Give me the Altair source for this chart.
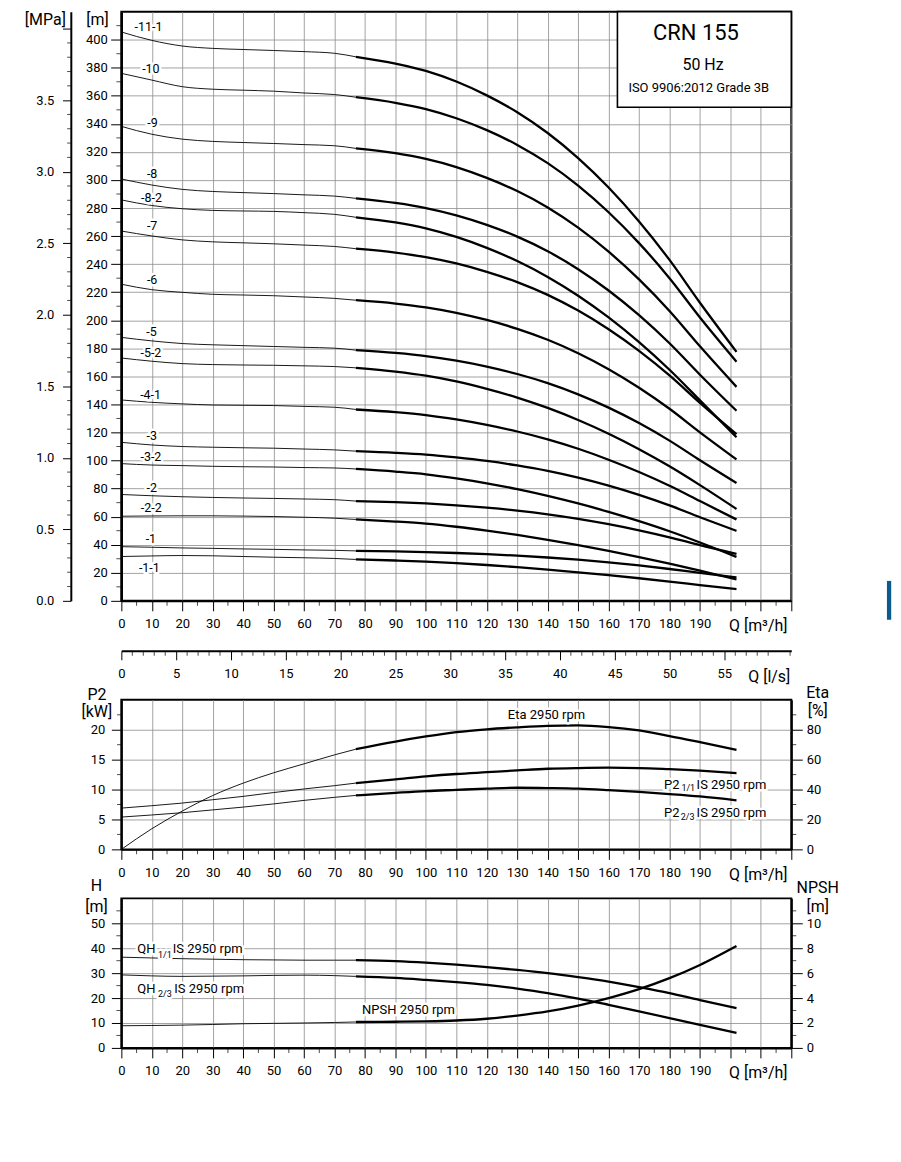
import altair as alt
import pandas as pd

FONT = "Roboto"
W, H_TOP, H_MID, H_BOT = 672, 591, 150, 150
H_STRIP = 1
SPACING = 49.15
Q_MAX = 220
LS_MAX = Q_MAX / 3.6
M_TOP = 420
MPA_FULL = M_TOP * 0.00980665
MPA_OFFSET = 50.7
SPLIT_Q = 77

# ---------------- data ----------------
Q_PTS = [0, 10, 20, 30, 40, 50, 60, 70, 77, 90, 100, 110, 120, 130, 140, 150, 160, 170, 180, 190, 202]

H_11_1 = [405.5, 399.5, 395.5, 393.8, 393.0, 392.3, 391.5, 390.3, 387.8, 383.0, 377.8, 370.2, 360.3, 348.3, 333.5, 315.6, 294.6, 270.4, 243.0, 212.5, 177.5]
H_10 = [376.0, 371.2, 366.5, 364.7, 364.0, 363.3, 362.0, 360.9, 359.0, 355.0, 350.5, 344.0, 335.5, 325.0, 312.0, 296.0, 277.0, 255.0, 230.0, 202.0, 170.5]
H_9 = [338.2, 332.6, 329.1, 327.5, 326.7, 326.0, 325.2, 324.4, 322.5, 319.1, 315.0, 309.2, 301.5, 292.1, 280.4, 266.0, 248.9, 229.1, 206.6, 181.4, 152.5]
H_8 = [300.7, 296.4, 293.3, 291.8, 291.0, 290.3, 289.4, 288.5, 286.9, 283.6, 280.0, 274.8, 268.0, 259.6, 249.2, 236.4, 221.2, 203.6, 183.6, 161.2, 135.5]
H_8_2 = [285.8, 281.8, 279.5, 278.3, 277.9, 277.6, 276.7, 275.5, 273.4, 269.7, 265.5, 259.4, 251.6, 242.2, 230.9, 217.5, 202.0, 184.4, 164.7, 142.9, 116.6]
H_7 = [263.6, 260.1, 257.3, 255.9, 255.2, 254.5, 253.6, 252.6, 251.0, 248.2, 245.0, 240.5, 234.5, 227.2, 218.1, 206.9, 193.6, 178.2, 160.7, 141.1, 118.8]
H_6 = [225.7, 221.8, 219.9, 218.5, 218.0, 217.5, 216.6, 215.6, 214.3, 211.9, 209.2, 205.3, 200.2, 193.9, 186.1, 176.5, 165.1, 151.9, 136.9, 120.1, 100.8]
H_5 = [187.8, 185.3, 183.4, 182.5, 181.9, 181.3, 180.7, 180.1, 178.7, 176.7, 174.5, 171.2, 167.0, 161.7, 155.2, 147.2, 137.7, 126.7, 114.2, 100.2, 84.0]
H_5_2 = [173.1, 170.8, 169.1, 168.4, 168.1, 167.9, 167.5, 167.0, 166.1, 163.4, 160.5, 156.4, 151.1, 144.9, 137.5, 128.9, 119.1, 108.1, 95.9, 82.5, 65.5]
H_4_1 = [143.2, 141.5, 140.4, 139.6, 139.4, 139.2, 138.6, 138.0, 136.4, 134.5, 132.4, 129.3, 125.4, 120.7, 115.1, 108.4, 100.6, 91.8, 82.0, 71.1, 58.0]
H_3 = [113.0, 111.1, 110.0, 109.5, 109.1, 108.8, 108.2, 107.6, 106.7, 105.5, 104.2, 102.2, 99.7, 96.5, 92.6, 87.8, 82.1, 75.5, 68.0, 59.6, 49.9]
H_3_2 = [97.8, 96.8, 96.4, 95.9, 95.6, 95.4, 95.0, 94.7, 94.0, 92.1, 90.2, 87.3, 83.8, 79.6, 74.8, 69.4, 63.4, 56.8, 49.6, 41.6, 31.3]
H_2 = [75.8, 74.9, 74.2, 73.7, 73.3, 73.0, 72.6, 72.1, 71.1, 70.3, 69.4, 68.1, 66.4, 64.3, 61.7, 58.5, 54.7, 50.3, 45.3, 39.7, 33.5]
H_2_2 = [60.3, 60.5, 60.6, 60.6, 60.4, 60.1, 59.6, 58.9, 58.0, 56.5, 55.0, 52.8, 50.1, 47.0, 43.5, 39.7, 35.6, 31.2, 26.5, 21.5, 15.2]
H_1 = [38.6, 38.2, 37.7, 37.4, 37.0, 36.7, 36.3, 36.0, 35.6, 35.2, 34.75, 34.1, 33.25, 32.2, 30.9, 29.3, 27.4, 25.2, 22.7, 19.9, 16.7]
H_1_1 = [31.6, 32.0, 32.3, 32.1, 31.6, 31.1, 30.7, 30.2, 29.5, 28.75, 28.0, 26.9, 25.55, 24.0, 22.25, 20.35, 18.3, 16.1, 13.75, 11.25, 8.3]

CURVE_NAMES = ["-11-1", "-10", "-9", "-8", "-8-2", "-7", "-6", "-5", "-5-2", "-4-1",
               "-3", "-3-2", "-2", "-2-2", "-1", "-1-1"]
CURVE_VALUES = [H_11_1, H_10, H_9, H_8, H_8_2, H_7, H_6, H_5, H_5_2, H_4_1,
                H_3, H_3_2, H_2, H_2_2, H_1, H_1_1]
LABEL_Q = [8.9, 9.7, 10.2, 10.1, 9.9, 10.1, 10.1, 9.9, 9.7, 9.6, 10.0, 9.7, 10.0, 9.8, 9.7, 9.2]
LABEL_H = [409.3, 378.9, 340.6, 303.9, 286.8, 266.9, 228.8, 191.5, 176.8, 147.0,
           117.4, 102.7, 80.5, 66.0, 44.2, 23.4]

BOX_Q = [162.9, 220.0]
BOX_H = [351.8, 420.0]
BOX_TEXT = ["CRN 155", "50 Hz", "ISO 9906:2012 Grade 3B"]
BOX_TEXT_Q = [188.7, 191.0, 189.6]
BOX_TEXT_H = [404.4, 382.3, 365.3]
BOX_TEXT_SIZE = [22, 16, 13]

TAB_Q = [251.4, 252.8]
TAB_H = [-13.5, 14.2]

ETA = [0.0, 13.8, 25.6, 36.0, 44.3, 51.2, 57.2, 63.2, 67.0, 72.1, 75.5, 78.4, 80.3, 81.6, 82.6, 82.9, 81.8, 79.5, 75.8, 71.7, 66.6]
P2_11 = [6.9, 7.3, 7.74, 8.3, 8.86, 9.5, 10.1, 10.65, 11.08, 11.7, 12.2, 12.6, 12.9, 13.2, 13.48, 13.6, 13.65, 13.6, 13.4, 13.15, 12.75]
P2_23 = [5.4, 5.75, 6.13, 6.6, 7.07, 7.6, 8.19, 8.7, 9.02, 9.45, 9.75, 9.95, 10.15, 10.3, 10.25, 10.15, 9.9, 9.6, 9.25, 8.85, 8.2]
QH_11 = [36.4, 36.1, 35.8, 35.6, 35.4, 35.3, 35.2, 35.2, 35.2, 34.8, 34.2, 33.4, 32.4, 31.3, 30.0, 28.4, 26.6, 24.4, 22.0, 19.2, 16.0]
QH_23 = [29.3, 28.9, 28.7, 28.8, 28.9, 29.1, 29.2, 29.0, 28.7, 28.1, 27.3, 26.4, 25.3, 23.8, 22.0, 19.8, 17.3, 14.7, 12.0, 9.2, 6.0]
NPSH = [1.78, 1.8, 1.83, 1.88, 1.94, 1.97, 2.0, 2.04, 2.08, 2.1, 2.13, 2.2, 2.34, 2.6, 2.93, 3.4, 4.0, 4.72, 5.6, 6.66, 8.18]

P2_LABEL_TEXT = ["P2", "IS 2950 rpm", "P2", "IS 2950 rpm"]
P2_LABEL_Q = [178.2, 188.9, 178.2, 188.9]
P2_LABEL_V = [10.05, 10.05, 5.43, 5.43]
P2_SUB_TEXT = ["1/1", "2/3"]
P2_SUB_Q = [183.9, 183.7]
P2_SUB_V = [9.77, 4.88]
ETA_LABEL = ["Eta 2950 rpm"]
ETA_LABEL_Q = [139.6]
ETA_LABEL_V = [87.3]

QH_LABEL_TEXT = ["QH", "IS 2950 rpm", "QH", "IS 2950 rpm"]
QH_LABEL_Q = [5.24, 16.9, 5.24, 17.4]
QH_LABEL_V = [38.0, 38.0, 22.2, 22.2]
QH_SUB_TEXT = ["1/1", "2/3"]
QH_SUB_Q = [12.0, 12.0]
QH_SUB_V = [36.1, 20.6]
NPSH_LABEL = ["NPSH 2950 rpm"]
NPSH_LABEL_Q = [94.3]
NPSH_LABEL_V = [13.7]

Q_MAJOR = list(range(0, Q_MAX + 1, 10))
Q_MINOR = list(range(5, Q_MAX, 10))
M_MAJOR = list(range(0, 401, 20))
M_MINOR = list(range(10, 411, 20))
MPA_MAJOR = [i * 0.5 for i in range(9)]
MPA_MINOR = [round(0.1 * i, 1) for i in range(1, 40) if i % 5 != 0]
LS_MAJOR = list(range(0, 56, 5))
LS_MINOR = [i for i in range(1, 62) if i % 5 != 0]
P2_MAJOR = [0, 5, 10, 15, 20]
P2_MINOR = [2.5, 7.5, 12.5, 17.5, 22.5]
ETA_MAJOR = [0, 20, 40, 60, 80]
ETA_MINOR = [10, 30, 50, 70, 90]
H_MAJOR = [0, 10, 20, 30, 40, 50]
H_MINOR = [5, 15, 25, 35, 45, 55]
NPSH_MAJOR = [0, 2, 4, 6, 8, 10]
NPSH_MINOR = [1, 3, 5, 7, 9, 11]


# ---------------- helpers ----------------
def curves_df(names, series):
    rows = []
    for n, s in zip(names, series):
        for q, v in zip(Q_PTS, s):
            if q <= SPLIT_Q:
                rows.append({"curve": n, "part": "thin", "Q": q, "V": v})
            if q >= SPLIT_Q:
                rows.append({"curve": n, "part": "thick", "Q": q, "V": v})
    return pd.DataFrame(rows)


def xs():
    return alt.Scale(domain=[0, Q_MAX], nice=False, zero=False)


def ysc(dom):
    return alt.Scale(domain=list(dom), nice=False, zero=False)


def X(field, axis=None):
    # layers without an axis of their own merge into the explicit one of the same scale
    if axis is None:
        return alt.X(field, scale=xs())
    return alt.X(field, scale=xs(), axis=axis)


def Y(field, dom, axis=None):
    if axis is None:
        return alt.Y(field, scale=ysc(dom))
    return alt.Y(field, scale=ysc(dom), axis=axis)


def x_major_axis():
    return alt.Axis(orient="bottom", values=Q_MAJOR, tickCount=200, format="d",
                    labelExpr="datum.value > 190 ? '' : datum.label", labelOverlap=False,
                    labelFlush=False, tickSize=10, labelPadding=7, domainWidth=2, grid=True,
                    title="Q [m³/h]", titleAngle=0, titleAlign="left",
                    titleBaseline="alphabetic", titleX=609, titleY=30)


def line_layers(df, ydom, xaxis=None, yaxis=None):
    thin = alt.Chart(df[df["part"] == "thin"]).mark_line(
        color="black", strokeWidth=0.9, interpolate="monotone").encode(
        x=X("Q:Q", xaxis), y=Y("V:Q", ydom, yaxis), detail="curve:N")
    thick = alt.Chart(df[df["part"] == "thick"]).mark_line(
        color="black", strokeWidth=2.3, interpolate="monotone").encode(
        x=X("Q:Q"), y=Y("V:Q", ydom), detail="curve:N")
    return [thin, thick]


def text_layers(df, ydom, size, align="left", baseline="alphabetic"):
    base = alt.Chart(df).encode(x=X("Q:Q"), y=Y("V:Q", ydom), text="t:N")
    halo = base.mark_text(font=FONT, fontSize=size, align=align, baseline=baseline,
                          color="white", stroke="white", strokeWidth=5, strokeJoin="round")
    txt = base.mark_text(font=FONT, fontSize=size, align=align, baseline=baseline, color="black")
    return [halo, txt]


def x_minor_ticks(ydom, length=5):
    df = pd.DataFrame({"Q": Q_MINOR, "V": [ydom[0]] * len(Q_MINOR)})
    return alt.Chart(df).mark_tick(color="black", orient="vertical", size=length, thickness=1,
                                   yOffset=length / 2).encode(x=X("Q:Q"), y=Y("V:Q", ydom))


def y_minor_ticks(values, ydom, length=5, at_q=0, shift=0.0):
    df = pd.DataFrame({"Q": [at_q] * len(values), "V": values})
    return alt.Chart(df).mark_tick(color="black", orient="horizontal", size=length, thickness=1,
                                   xOffset=shift).encode(x=X("Q:Q"), y=Y("V:Q", ydom))


def y_axis(orient, values, fmt, tick, pad, title, tx, ty, lh=16, grid=False, offset=0,
           label_expr=None, align="center", dwidth=2):
    kw = dict(orient=orient, values=values, tickCount=200, format=fmt, tickSize=tick,
              labelPadding=pad, domainWidth=dwidth, grid=grid, title=title, titleAngle=0,
              titleAlign=align, titleBaseline="alphabetic", titleX=tx, titleY=ty,
              titleLineHeight=lh, labelOverlap=False, labelFlush=False)
    if offset:
        kw["offset"] = offset
    if label_expr:
        kw["labelExpr"] = label_expr
    return alt.Axis(**kw)


# ---------------- top panel: heads ----------------
M_DOM = (0, M_TOP)
m_axis = y_axis("left", M_MAJOR, "d", 10.7, 3.3, "[m]", -24.5, 13, grid=True, dwidth=2.3)

df_head = curves_df(CURVE_NAMES, CURVE_VALUES)
head_lines = line_layers(df_head, M_DOM, x_major_axis(), m_axis)
head_labels = text_layers(pd.DataFrame({"t": CURVE_NAMES, "Q": LABEL_Q, "V": LABEL_H}),
                          M_DOM, 12.5, align="center", baseline="middle")

df_box = pd.DataFrame({"Q": [BOX_Q[0]], "q2": [BOX_Q[1]], "V": [BOX_H[0]], "h2": [BOX_H[1]]})
box = alt.Chart(df_box).mark_rect(fill="white", stroke="black", strokeWidth=1.6).encode(
    x=X("Q:Q"), x2="q2", y=Y("V:Q", M_DOM), y2="h2")
df_box_text = pd.DataFrame({"t": BOX_TEXT, "Q": BOX_TEXT_Q, "V": BOX_TEXT_H, "s": BOX_TEXT_SIZE})
box_text = alt.Chart(df_box_text).mark_text(font=FONT, color="black", align="center",
                                             baseline="middle").encode(
    x=X("Q:Q"), y=Y("V:Q", M_DOM), text="t:N", size=alt.Size("s:Q", scale=None, legend=None))
df_tab = pd.DataFrame({"Q": [TAB_Q[0]], "q2": [TAB_Q[1]], "V": [TAB_H[0]], "h2": [TAB_H[1]]})
tab = alt.Chart(df_tab).mark_rect(fill="#0b5b8f").encode(
    x=X("Q:Q"), x2="q2", y=Y("V:Q", M_DOM), y2="h2")

top_main = alt.layer(*head_lines, *head_labels, box, box_text, tab,
                     x_minor_ticks(M_DOM), y_minor_ticks(M_MINOR, M_DOM, 5, 0, -2.5))

MPA_DOM = (0, MPA_FULL)
df_mpa = pd.DataFrame({"Q": [0.0], "V": [0.0]})
mpa_axis_layer = alt.Chart(df_mpa).mark_point(opacity=0).encode(
    x=X("Q:Q"),
    y=Y("V:Q", MPA_DOM, y_axis("left", MPA_MAJOR, ".1f", 8.3, 8.7, "[MPa]", -46.6, 13,
                              offset=MPA_OFFSET, label_expr="datum.value > 3.9 ? '' : datum.label",
                              align="left")))
mpa_group = alt.layer(mpa_axis_layer, y_minor_ticks(MPA_MINOR, MPA_DOM, 3.7, 0, -MPA_OFFSET - 1.85))

top = alt.layer(top_main, mpa_group).resolve_scale(y="independent").properties(width=W, height=H_TOP)

# ---------------- l/s axis strip ----------------
LS_SCALE = alt.Scale(domain=[0, LS_MAX], nice=False, zero=False)
df_ls = pd.DataFrame({"L": [0.0], "V": [0.0]})
ls_axis_layer = alt.Chart(df_ls).mark_point(opacity=0).encode(
    x=alt.X("L:Q", scale=LS_SCALE, axis=alt.Axis(
        orient="bottom", values=LS_MAJOR, tickCount=200, format="d", tickSize=9,
        labelOverlap=False, labelFlush=False, labelPadding=7.3, domainWidth=2, grid=False,
        title="Q [l/s]", titleAngle=0, titleAlign="left", titleBaseline="alphabetic",
        titleX=628.3, titleY=30.7)),
    y=alt.Y("V:Q", scale=alt.Scale(domain=[0, 1]), axis=None))
df_ls_minor = pd.DataFrame({"L": LS_MINOR, "V": [0.0] * len(LS_MINOR)})
ls_minor = alt.Chart(df_ls_minor).mark_tick(color="black", orient="vertical", size=5, thickness=1,
                                            yOffset=2.5).encode(
    x=alt.X("L:Q", scale=LS_SCALE),
    y=alt.Y("V:Q", scale=alt.Scale(domain=[0, 1]), axis=None))
strip = alt.layer(ls_axis_layer, ls_minor).properties(
    width=W, height=H_STRIP, view=alt.ViewBackground(strokeOpacity=0))

# ---------------- middle panel: power / efficiency ----------------
P2_DOM = (0, 25)
ETA_DOM = (0, 100)
p2_axis = y_axis("left", P2_MAJOR, "d", 10, 6.7, ["P2", "[kW]"], -25, 0, lh=17, grid=True)
eta_axis = y_axis("right", ETA_MAJOR, "d", 11, 4, ["Eta", "[%]"], 26, -2, lh=18)

p2_lines = line_layers(curves_df(["P2 1/1", "P2 2/3"], [P2_11, P2_23]), P2_DOM, x_major_axis(), p2_axis)
p2_text = text_layers(pd.DataFrame({"t": P2_LABEL_TEXT, "Q": P2_LABEL_Q, "V": P2_LABEL_V}), P2_DOM, 13)
p2_sub = text_layers(pd.DataFrame({"t": P2_SUB_TEXT, "Q": P2_SUB_Q, "V": P2_SUB_V}), P2_DOM, 9)
p2_group = alt.layer(*p2_lines, *p2_text, *p2_sub, x_minor_ticks(P2_DOM),
                     y_minor_ticks(P2_MINOR, P2_DOM, 4.3, 0, -2.15))

eta_lines = line_layers(curves_df(["Eta"], [ETA]), ETA_DOM, None, eta_axis)
eta_text = text_layers(pd.DataFrame({"t": ETA_LABEL, "Q": ETA_LABEL_Q, "V": ETA_LABEL_V}), ETA_DOM, 13,
                       align="center")
eta_group = alt.layer(*eta_lines, *eta_text, y_minor_ticks(ETA_MINOR, ETA_DOM, 5, Q_MAX, 2.5))

mid = alt.layer(p2_group, eta_group).resolve_scale(y="independent").properties(width=W, height=H_MID)

# ---------------- bottom panel: QH / NPSH ----------------
H_DOM = (0, 60)
NPSH_DOM = (0, 12)
h_axis = y_axis("left", H_MAJOR, "d", 10, 6.7, ["H", "[m]"], -25.5, -7.6, lh=21, grid=True)
npsh_axis = y_axis("right", NPSH_MAJOR, "d", 11, 4, ["NPSH", "[m]"], 26, -5.6, lh=19)

qh_lines = line_layers(curves_df(["QH 1/1", "QH 2/3"], [QH_11, QH_23]), H_DOM, x_major_axis(), h_axis)
qh_text = text_layers(pd.DataFrame({"t": QH_LABEL_TEXT, "Q": QH_LABEL_Q, "V": QH_LABEL_V}), H_DOM, 13)
qh_sub = text_layers(pd.DataFrame({"t": QH_SUB_TEXT, "Q": QH_SUB_Q, "V": QH_SUB_V}), H_DOM, 9)
npsh_text = text_layers(pd.DataFrame({"t": NPSH_LABEL, "Q": NPSH_LABEL_Q, "V": NPSH_LABEL_V}), H_DOM, 13,
                        align="center")
h_group = alt.layer(*qh_lines, *qh_text, *qh_sub, *npsh_text, x_minor_ticks(H_DOM),
                    y_minor_ticks(H_MINOR, H_DOM, 5, 0, -2.5))

npsh_lines = line_layers(curves_df(["NPSH"], [NPSH]), NPSH_DOM, None, npsh_axis)
npsh_group = alt.layer(*npsh_lines, y_minor_ticks(NPSH_MINOR, NPSH_DOM, 5, Q_MAX, 2.5))

bot = alt.layer(h_group, npsh_group).resolve_scale(y="independent").properties(width=W, height=H_BOT)

# ---------------- assemble ----------------
chart = alt.vconcat(top, strip, mid, bot, spacing=SPACING, bounds="flush").properties(
    padding={"left": 14.7, "top": 0, "right": 0, "bottom": 0}
).configure_axis(
    labelFont=FONT, titleFont=FONT, labelFontSize=13, titleFontSize=16, titleFontWeight="normal",
    labelColor="black", titleColor="black", tickColor="black", domainColor="black",
    gridColor="#8c8c8c", gridWidth=0.8, gridOpacity=1, labelFlush=False, labelOverlap=False,
    tickWidth=1
).configure_view(stroke="black", strokeWidth=2)

chart.save("out.html", embed_options={"renderer": "svg", "actions": False})
